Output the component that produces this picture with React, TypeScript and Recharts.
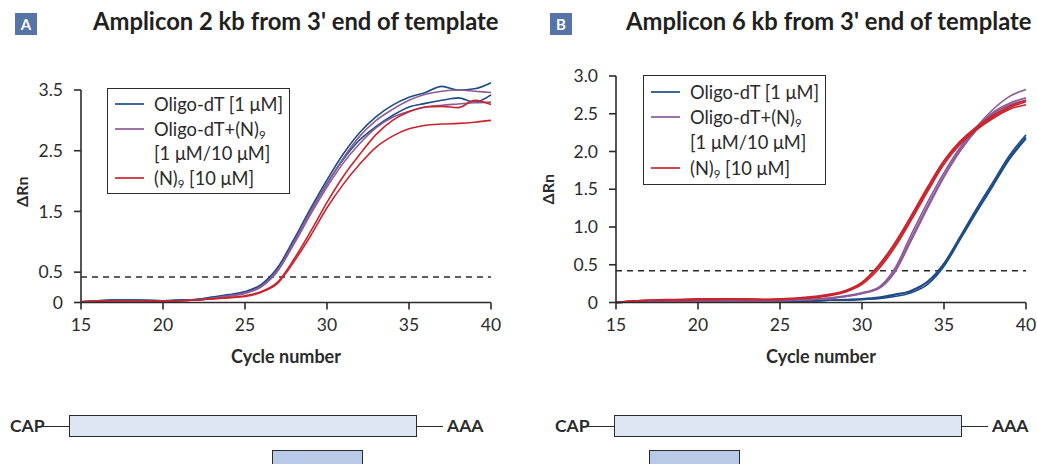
import React from "react";
import { LineChart, Line, XAxis, YAxis, ReferenceLine, Legend } from "recharts";

const FONT = "Lato, 'Open Sans', sans-serif";
const INK = "#2b2b2b";
const BLUE = "#1d4c86";
const PURPLE = "#8c5c99";
const RED = "#c9242e";

const CYCLES = [15, 16, 17, 18, 19, 20, 21, 22, 23, 24, 25, 26, 27, 28, 29, 30, 31, 32, 33, 34, 35, 36, 37, 38, 39, 40];
const X_TICKS = [15, 20, 25, 30, 35, 40];
const THRESHOLD = 0.42;

// panel A: amplicon 2 kb from 3' end (2 replicates per primer)
const A_Y_TICKS = [0, 0.5, 1.5, 2.5, 3.5];
const A_BLUE_1 = [0.01, 0.03, 0.04, 0.04, 0.03, 0.03, 0.04, 0.05, 0.09, 0.13, 0.18, 0.3, 0.58, 1.05, 1.55, 2.02, 2.45, 2.8, 3.06, 3.25, 3.38, 3.46, 3.56, 3.5, 3.52, 3.62];
const A_BLUE_2 = [0.01, 0.03, 0.04, 0.04, 0.04, 0.03, 0.04, 0.05, 0.08, 0.12, 0.17, 0.28, 0.55, 1.0, 1.5, 1.96, 2.36, 2.68, 2.9, 3.08, 3.22, 3.28, 3.33, 3.37, 3.3, 3.42];
const A_PURPLE_1 = [0.01, 0.02, 0.03, 0.03, 0.03, 0.03, 0.03, 0.04, 0.07, 0.11, 0.16, 0.27, 0.54, 1.0, 1.5, 1.95, 2.38, 2.74, 3.0, 3.18, 3.33, 3.43, 3.48, 3.5, 3.48, 3.46];
const A_PURPLE_2 = [0.01, 0.02, 0.03, 0.03, 0.03, 0.03, 0.03, 0.04, 0.07, 0.1, 0.15, 0.26, 0.52, 0.97, 1.45, 1.9, 2.3, 2.62, 2.88, 3.05, 3.15, 3.22, 3.25, 3.27, 3.29, 3.3];
const A_RED_1 = [0.01, 0.02, 0.03, 0.03, 0.03, 0.02, 0.03, 0.04, 0.06, 0.08, 0.11, 0.18, 0.34, 0.72, 1.17, 1.65, 2.08, 2.44, 2.77, 3.0, 3.14, 3.22, 3.23, 3.21, 3.33, 3.26];
const A_RED_2 = [0.01, 0.02, 0.03, 0.03, 0.03, 0.02, 0.03, 0.04, 0.06, 0.08, 0.1, 0.17, 0.32, 0.68, 1.1, 1.56, 1.95, 2.28, 2.56, 2.74, 2.86, 2.92, 2.94, 2.95, 2.97, 3.0];

// panel B: amplicon 6 kb from 3' end (3 replicates per primer)
const B_Y_TICKS = [0, 0.5, 1, 1.5, 2, 2.5, 3];
const B_BLUE_1 = [0.0, 0.01, 0.02, 0.02, 0.02, 0.02, 0.02, 0.02, 0.02, 0.02, 0.02, 0.02, 0.02, 0.03, 0.03, 0.04, 0.06, 0.1, 0.16, 0.28, 0.52, 0.88, 1.25, 1.6, 1.95, 2.22];
const B_BLUE_2 = [0.0, 0.01, 0.02, 0.02, 0.02, 0.02, 0.02, 0.02, 0.02, 0.02, 0.02, 0.02, 0.02, 0.03, 0.03, 0.04, 0.05, 0.08, 0.13, 0.24, 0.48, 0.84, 1.2, 1.55, 1.9, 2.17];
const B_BLUE_3 = [0.0, 0.01, 0.02, 0.02, 0.02, 0.02, 0.02, 0.02, 0.02, 0.02, 0.02, 0.02, 0.03, 0.03, 0.04, 0.05, 0.07, 0.11, 0.15, 0.27, 0.5, 0.86, 1.22, 1.57, 1.92, 2.19];
const B_PURPLE_1 = [0.0, 0.01, 0.02, 0.02, 0.02, 0.02, 0.02, 0.02, 0.02, 0.02, 0.03, 0.03, 0.04, 0.06, 0.09, 0.13, 0.2, 0.45, 0.9, 1.33, 1.72, 2.06, 2.33, 2.56, 2.73, 2.82];
const B_PURPLE_2 = [0.0, 0.01, 0.02, 0.02, 0.02, 0.02, 0.02, 0.02, 0.02, 0.02, 0.03, 0.03, 0.04, 0.06, 0.08, 0.12, 0.19, 0.42, 0.85, 1.28, 1.68, 2.03, 2.31, 2.52, 2.64, 2.71];
const B_PURPLE_3 = [0.0, 0.01, 0.02, 0.02, 0.02, 0.02, 0.02, 0.02, 0.02, 0.02, 0.02, 0.03, 0.04, 0.05, 0.08, 0.12, 0.18, 0.4, 0.82, 1.25, 1.66, 2.01, 2.29, 2.5, 2.62, 2.68];
const B_RED_1 = [0.0, 0.02, 0.03, 0.03, 0.04, 0.04, 0.04, 0.05, 0.04, 0.04, 0.04, 0.05, 0.07, 0.1, 0.15, 0.26, 0.47, 0.76, 1.12, 1.5, 1.86, 2.12, 2.31, 2.46, 2.58, 2.66];
const B_RED_2 = [0.0, 0.02, 0.03, 0.03, 0.03, 0.04, 0.04, 0.04, 0.04, 0.04, 0.04, 0.05, 0.06, 0.09, 0.14, 0.24, 0.44, 0.73, 1.09, 1.47, 1.83, 2.1, 2.29, 2.44, 2.56, 2.62];
const B_RED_3 = [0.0, 0.02, 0.03, 0.04, 0.04, 0.05, 0.05, 0.05, 0.05, 0.04, 0.05, 0.06, 0.08, 0.11, 0.16, 0.27, 0.49, 0.79, 1.15, 1.53, 1.88, 2.14, 2.33, 2.48, 2.6, 2.68];

const LEGEND_ITEMS = [
  { color: BLUE, text: "Oligo-dT [1 μM]", sub: "", rest: "", second: "" },
  { color: PURPLE, text: "Oligo-dT+(N)", sub: "9", rest: "", second: "[1 μM/10 μM]" },
  { color: RED, text: "(N)", sub: "9", rest: " [10 μM]", second: "" },
];

type Series = { key: string; color: string; values: number[] };

const A_SERIES: Series[] = [
  { key: "b1", color: BLUE, values: A_BLUE_1 },
  { key: "b2", color: BLUE, values: A_BLUE_2 },
  { key: "p1", color: PURPLE, values: A_PURPLE_1 },
  { key: "p2", color: PURPLE, values: A_PURPLE_2 },
  { key: "r1", color: RED, values: A_RED_1 },
  { key: "r2", color: RED, values: A_RED_2 },
];

const B_SERIES: Series[] = [
  { key: "b1", color: BLUE, values: B_BLUE_1 },
  { key: "b2", color: BLUE, values: B_BLUE_2 },
  { key: "b3", color: BLUE, values: B_BLUE_3 },
  { key: "p1", color: PURPLE, values: B_PURPLE_1 },
  { key: "p2", color: PURPLE, values: B_PURPLE_2 },
  { key: "p3", color: PURPLE, values: B_PURPLE_3 },
  { key: "r1", color: RED, values: B_RED_1 },
  { key: "r2", color: RED, values: B_RED_2 },
  { key: "r3", color: RED, values: B_RED_3 },
];

const toRows = (series: Series[]) =>
  CYCLES.map((c, i) => {
    const row: any = { cycle: c };
    series.forEach((s) => (row[s.key] = s.values[i]));
    return row;
  });

const fmtY = (v: number) => (v === 0 ? "0" : v.toFixed(1));

function LegendBox({ rowHeight }: { rowHeight: number }) {
  return (
    <div style={{ border: `1.5px solid ${INK}`, background: "#fff", padding: "3px 6px 3px 7px", fontFamily: FONT, fontSize: 18.3, color: INK }}>
      {LEGEND_ITEMS.map((it) => (
        <div key={it.text + it.rest}>
          <div style={{ display: "flex", alignItems: "center", height: rowHeight, whiteSpace: "nowrap" }}>
            <svg width={29} height={4} style={{ marginRight: 10 }}>
              <line x1={0} y1={2} x2={29} y2={2} stroke={it.color} strokeWidth={1.7} />
            </svg>
            <span>
              {it.text}
              {it.sub && <span style={{ fontSize: 11.5, position: "relative", top: 3 }}>{it.sub}</span>}
              {it.rest}
            </span>
          </div>
          {it.second && (
            <div style={{ height: rowHeight, lineHeight: rowHeight + "px", paddingLeft: 39, whiteSpace: "nowrap" }}>{it.second}</div>
          )}
        </div>
      ))}
    </div>
  );
}

type PanelProps = {
  left: number;
  width: number;
  series: Series[];
  yDomain: [number, number];
  yTicks: number[];
  axisTop: number;
  top: number;
  right: number;
  yAxisWidth: number;
  labelDx: number;
  legendPos: { left: number; top: number };
  legendRow: number;
};

function Panel(p: PanelProps) {
  const tick = { fill: INK, fontSize: 17.5, fontFamily: FONT };
  return (
    <div style={{ position: "absolute", left: p.left, top: 0 }}>
      <LineChart width={p.width} height={420} data={toRows(p.series)} margin={{ top: p.top, right: p.right, bottom: 8.5, left: 0 }}>
        <XAxis
          dataKey="cycle"
          type="number"
          domain={[15, 40]}
          ticks={X_TICKS}
          height={109}
          stroke={INK}
          strokeWidth={1.6}
          tickSize={7}
          tickMargin={9}
          tick={tick}
          label={{ value: "Cycle number", position: "center", fill: INK, fontSize: 18, fontWeight: 700, fontFamily: FONT }}
        />
        <YAxis
          type="number"
          domain={p.yDomain}
          ticks={p.yTicks}
          tickFormatter={fmtY}
          width={p.yAxisWidth}
          axisLine={p.axisTop === p.yDomain[1]}
          stroke={INK}
          strokeWidth={1.6}
          tickSize={7}
          tickMargin={11}
          tick={tick}
          label={{ value: "ΔRn", angle: -90, position: "center", dx: p.labelDx, fill: INK, fontSize: 16, fontWeight: 700, fontFamily: FONT }}
        />
        {p.axisTop !== p.yDomain[1] && (
          <ReferenceLine segment={[{ x: 15, y: 0 }, { x: 15, y: p.axisTop }]} stroke={INK} strokeWidth={1.6} />
        )}
        <ReferenceLine y={THRESHOLD} stroke={INK} strokeWidth={1.4} strokeDasharray="6 5" />
        <Legend
          layout="vertical"
          align="center"
          verticalAlign="middle"
          wrapperStyle={{ left: p.legendPos.left, top: p.legendPos.top, width: "auto" }}
          content={() => <LegendBox rowHeight={p.legendRow} />}
        />
        {p.series.map((s) => (
          <Line key={s.key} dataKey={s.key} type="monotone" stroke={s.color} strokeWidth={1.6} dot={false} isAnimationActive={false} legendType="none" />
        ))}
      </LineChart>
    </div>
  );
}

function Badge({ letter, left }: { letter: string; left: number }) {
  return (
    <div style={{ position: "absolute", left, top: 13, width: 22, height: 22, background: "#5674a7", color: "#fff", fontWeight: 700, fontSize: 15, textAlign: "center", lineHeight: "22px" }}>
      {letter}
    </div>
  );
}

function Title({ text, left }: { text: string; left: number }) {
  return (
    <div style={{ position: "absolute", left, top: 7, fontSize: 23.8, fontWeight: 700, color: "#231f20", whiteSpace: "nowrap" }}>{text}</div>
  );
}

function Template({ left, probeLeft }: { left: number; probeLeft: number }) {
  return (
    <>
      <div style={{ position: "absolute", left, top: 415, fontSize: 17.5, fontWeight: 700 }}>CAP</div>
      <div style={{ position: "absolute", left: left + 33, top: 426, width: 26, borderTop: `1.5px solid ${INK}` }} />
      <div style={{ position: "absolute", left: left + 59, top: 415, width: 348, height: 22, background: "#dfe6f3", border: `1.5px solid ${INK}`, boxSizing: "border-box" }} />
      <div style={{ position: "absolute", left: left + 407, top: 426, width: 26, borderTop: `1.5px solid ${INK}` }} />
      <div style={{ position: "absolute", left: left + 437, top: 415, fontSize: 17.5, fontWeight: 700 }}>AAA</div>
      <div style={{ position: "absolute", left: probeLeft, top: 450, width: 91, height: 30, background: "#b8cae8", border: `1.5px solid ${INK}`, boxSizing: "border-box" }} />
    </>
  );
}

export default function App() {
  return (
    <div style={{ position: "absolute", left: 0, top: 0, width: 1037, height: 464, background: "#fff", fontFamily: FONT, color: INK, overflow: "hidden" }}>
      <Badge letter="A" left={15} />
      <Title text="Amplicon 2 kb from 3' end of template" left={93} />
      <Badge letter="B" left={550} />
      <Title text="Amplicon 6 kb from 3' end of template" left={626} />
      <Panel
        left={0}
        width={520}
        series={A_SERIES}
        yDomain={[0, 3.65]}
        yTicks={A_Y_TICKS}
        axisTop={3.5}
        top={80.9}
        right={29}
        yAxisWidth={81}
        labelDx={-18.5}
        legendPos={{ left: 107, top: 88 }}
        legendRow={24.5}
      />
      <Panel
        left={520}
        width={517}
        series={B_SERIES}
        yDomain={[0, 3]}
        yTicks={B_Y_TICKS}
        axisTop={3}
        top={76}
        right={11}
        yAxisWidth={96}
        labelDx={-20}
        legendPos={{ left: 123, top: 75 }}
        legendRow={25.5}
      />
      <Template left={10} probeLeft={272} />
      <Template left={555} probeLeft={649} />
    </div>
  );
}
